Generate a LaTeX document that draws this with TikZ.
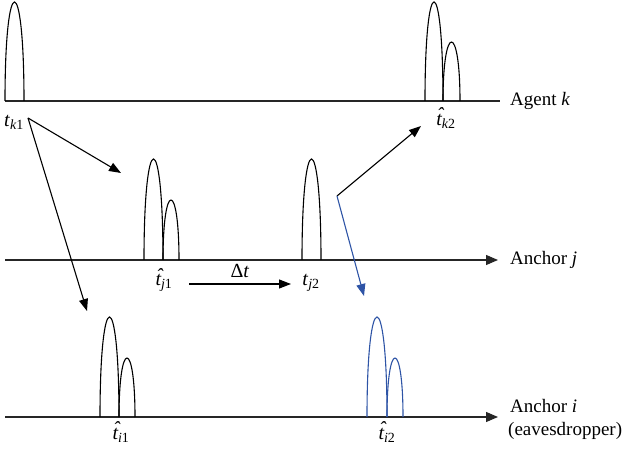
\documentclass[tikz,border=0pt]{standalone}
\usepackage{fontspec}
\setmainfont{Liberation Serif}
\usetikzlibrary{arrows.meta}
\definecolor{pblue}{RGB}{46,84,166}
\newcommand{\mypulse}[5][]{\draw[pulse,#1] (#2,#5) .. controls (#2,{#5-4/3*(#5-#4)}) and (#3,{#5-4/3*(#5-#4)}) .. (#3,#5);}
\newcommand{\tl}[1]{\textit{t}\textsubscript{#1}}
\newcommand{\hatt}{\textit{\ooalign{t\cr\hidewidth\hspace{0.12em}\raisebox{0.16em}{\char"02C6}\hidewidth\cr}}}
\newcommand{\htl}[1]{\hatt\textsubscript{#1}}
\tikzset{
  axis/.style={line width=1.1pt, draw=black!85},
  axisarrow/.style={axis, -{Triangle[length=12pt,width=10pt]}},
  pulse/.style={line width=1.1pt},
  conn/.style={line width=1.1pt, -{Triangle[length=12pt,width=9pt]}},
  lbl/.style={inner sep=0pt, font=\fontsize{20}{22}\selectfont},
  axlbl/.style={inner sep=0pt, anchor=west, font=\fontsize{19}{22}\selectfont},
}
\begin{document}
\begin{tikzpicture}[x=1pt,y=-1pt]
\useasboundingbox (0,0) rectangle (638,449);
% axes
\coordinate (ks) at (5,101); \coordinate (ke) at (500,101);
\coordinate (js) at (5,260); \coordinate (je) at (498,260);
\coordinate (is) at (5,417); \coordinate (ie) at (498,417);
\draw[axis] (ks) -- (ke);
\draw[axisarrow] (js) -- (je);
\draw[axisarrow] (is) -- (ie);
\node[axlbl] (lk) at (510,101) {Agent \textit{k}};
\node[axlbl] (lj) at (510,260) {Anchor \textit{j}};
\node[axlbl] (li) at (510,406) {Anchor \textit{i}};
\node[axlbl] (le) at (508,431) {(eavesdropper)};
% pulses agent k
\mypulse{5}{24}{2}{101}
\mypulse{425}{443}{2}{101}
\mypulse{443}{460}{42}{101}
% pulses anchor j
\mypulse{144}{163}{159}{260}
\mypulse{163}{179}{200}{260}
\mypulse{302}{321}{159}{260}
% pulses anchor i
\mypulse{100}{119}{317}{417}
\mypulse{119}{135}{358}{417}
\mypulse[draw=pblue]{367}{387}{317}{417}
\mypulse[draw=pblue]{387}{403}{358}{417}
% labels
\node[lbl] (tk1) at (14,122) {\tl{\textit{k}1}};
\node[lbl] (tk2) at (446,121) {\htl{\textit{k}2}};
\node[lbl] (tj1) at (164,283) {\htl{\textit{j}1}};
\node[lbl] (tj2) at (311,283) {\tl{\textit{j}2}};
\node[lbl] (ti1) at (121,435) {\htl{\textit{i}1}};
\node[lbl] (ti2) at (387,435) {\htl{\textit{i}2}};
\node[lbl] (dt) at (240,271) {Δ\textit{t}};
% connectors
\coordinate (src) at (28,118);
\coordinate (toj) at (121,173);
\coordinate (toi) at (87,311);
\coordinate (bend) at (337,196);
\coordinate (tok) at (421,126);
\coordinate (toi2) at (364,296);
\coordinate (dts) at (189,284);
\coordinate (dte) at (291,284);
\draw[conn] (src) -- (toj);
\draw[conn] (src) -- (toi);
\draw[conn] (bend) -- (tok);
\draw[conn, pblue] (bend) -- (toi2);
\draw[conn] (dts) -- (dte);
\end{tikzpicture}
\end{document}
